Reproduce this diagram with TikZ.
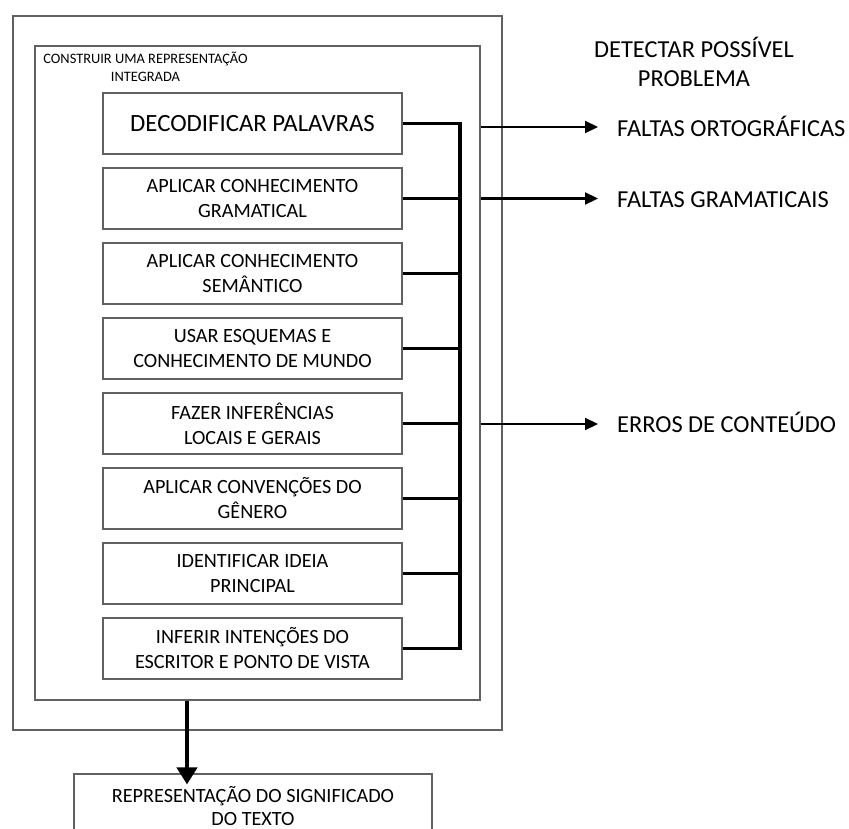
\documentclass[tikz,border=0pt]{standalone}
\usepackage{fontspec}
\setmainfont{Carlito}
\usetikzlibrary{arrows.meta}
\begin{document}
\begin{tikzpicture}[x=1pt,y=-1pt,
  frame/.style={draw=black!62,line width=1.1pt},
  stepbox/.style={frame,minimum width=299pt,minimum height=61pt,align=center,
    font=\fontsize{20.2}{25}\selectfont,inner sep=0pt},
  bus/.style={line width=3.5pt,black},
  outarrow/.style={line width=2.2pt,-{Triangle[width=12pt,length=13pt]}},
  downarrow/.style={line width=4pt,-{Triangle[width=20pt,length=17pt]}},
  label/.style={anchor=base west,inner sep=0pt,font=\fontsize{24.4}{29}\selectfont}]
\clip (0,0) rectangle (849,829);
\fill[white] (0,0) rectangle (849,829);

% nested frames
\node[frame,minimum width=489pt,minimum height=714pt] (outer) at (257.5,373) {};
\node[frame,minimum width=445pt,minimum height=654pt] (inner) at (257.5,373) {};
\node[align=center,font=\fontsize{14.4}{18}\selectfont,inner sep=0pt] (title) at (145.5,67)
  {CONSTRUIR UMA REPRESENTAÇÃO\\INTEGRADA};

% processing steps
\node[stepbox,font=\fontsize{24.8}{29}\selectfont] (b1) at (252.5,123.5) {DECODIFICAR PALAVRAS};
\node[stepbox] (b2) at (252.5,198.5) {APLICAR CONHECIMENTO\\GRAMATICAL};
\node[stepbox] (b3) at (252.5,273.5) {APLICAR CONHECIMENTO\\SEMÂNTICO};
\node[stepbox] (b4) at (252.5,348.5) {USAR ESQUEMAS E\\CONHECIMENTO DE MUNDO};
\node[stepbox] (b5) at (252.5,423.5) {FAZER INFERÊNCIAS\\LOCAIS E GERAIS};
\node[stepbox] (b6) at (252.5,498.5) {APLICAR CONVENÇÕES DO\\GÊNERO};
\node[stepbox] (b7) at (252.5,573.5) {IDENTIFICAR IDEIA\\PRINCIPAL};
\node[stepbox] (b8) at (252.5,648.5) {INFERIR INTENÇÕES DO\\ESCRITOR E PONTO DE VISTA};

% collecting bus
\coordinate (busx) at (460,0);
\foreach \b in {b1,b2,b3,b4,b5,b6,b7,b8}
  \draw[bus] (\b.east) -- (\b.east -| busx);
\draw[bus,line cap=rect] (b1.east -| busx) -- (b8.east -| busx);

% detected problems
\node[align=center,font=\fontsize{24.4}{29.5}\selectfont,inner sep=0pt] (detect) at (694,62)
  {DETECTAR POSSÍVEL\\PROBLEMA};
\node[label] (p1) at (617,137) {FALTAS ORTOGRÁFICAS};
\node[label] (p2) at (617,208) {FALTAS GRAMATICAIS};
\node[label] (p3) at (617,432) {ERROS DE CONTEÚDO};
\coordinate (t1) at (598,127);
\coordinate (t2) at (598,198.5);
\coordinate (t3) at (598,424);
\foreach \t in {t1,t2,t3}
  \draw[outarrow] (inner.east |- \t) -- (\t);

% result
\node[frame,minimum width=358pt,minimum height=64pt,align=center,
  font=\fontsize{20.2}{22.5}\selectfont,inner sep=0pt] (result) at (253,806)
  {REPRESENTAÇÃO DO SIGNIFICADO\\DO TEXTO};
\coordinate (downx) at (187,0);
\draw[downarrow] (inner.south -| downx) -- ([yshift=-11pt]result.north -| downx);
\end{tikzpicture}
\end{document}
